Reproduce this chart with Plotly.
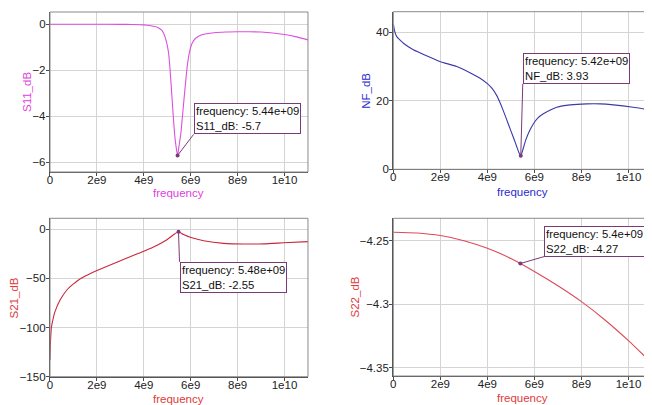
import plotly.graph_objects as go

# ---------------- data (frequency in GHz, values in dB) ----------------
s11_f = [0, 1, 2, 3, 3.5, 4.0, 4.3, 4.57, 4.75, 4.85, 4.95, 5.05, 5.11, 5.21, 5.31, 5.38, 5.44,
         5.5, 5.58, 5.71, 5.85, 5.95, 6.05, 6.2, 6.5, 7.0, 7.5, 8.0, 8.5, 9.0, 9.5, 10.0, 10.5, 11.0]
s11_v = [0, 0, 0, -0.005, -0.01, -0.03, -0.07, -0.13, -0.25, -0.4, -0.7, -1.2, -1.84, -3.3, -4.74, -5.35, -5.7,
         -5.3, -4.74, -3.3, -1.84, -1.2, -0.85, -0.62, -0.45, -0.37, -0.34, -0.33, -0.33, -0.34, -0.38, -0.45, -0.55, -0.68]

nf_f = [0, 0.05, 0.14, 0.3, 0.43, 0.85, 1.56, 2.0, 2.7, 3.26, 3.69, 4.0, 4.2, 4.4, 4.54, 4.7, 4.87, 5.0,
        5.15, 5.25, 5.34, 5.42, 5.5, 5.63, 5.8, 5.96, 6.15, 6.38, 6.7, 6.95, 7.52, 8.23, 8.8, 9.36, 10.2, 11.0]
nf_v = [42.5, 40.5, 38.8, 37.6, 36.8, 34.9, 32.7, 31.4, 30.0, 28.2, 26.6, 25.0, 23.6, 21.5, 19.4, 16.7, 13.6, 11.2,
        8.5, 6.6, 4.9, 3.93, 5.5, 8.5, 11.3, 13.3, 15.0, 16.2, 17.4, 18.1, 18.8, 19.1, 19.1, 18.8, 18.1, 17.2]

s21_f = [0, 0.02, 0.06, 0.115, 0.21, 0.43, 0.71, 0.85, 1.0, 1.28, 1.6, 2.0, 2.85, 3.57, 4.0, 4.57, 5.0, 5.28, 5.48,
         5.7, 5.98, 6.55, 7.41, 8.26, 9.12, 9.97, 11.0]
s21_v = [-133, -115, -100, -93, -84, -72, -62, -58.5, -55.5, -50.5, -46.5, -42, -33.5, -26.5, -22.3, -16.2, -10.4, -5.3, -2.55,
         -5.4, -8.2, -11.6, -14.3, -15.0, -14.8, -13.7, -12.5]

s22_f = [0, 1, 2, 3, 4, 5, 6, 7, 8, 9, 10, 11]
s22_v = [-4.2434, -4.2440, -4.2460, -4.2500, -4.2560, -4.2640, -4.2742, -4.2855, -4.2980, -4.3124, -4.3287, -4.3466]

# markers (frequency GHz, value dB)
m_s11 = (5.44, -5.7)
m_nf = (5.42, 3.93)
m_s21 = (5.48, -2.55)
m_s22 = (5.4, -4.268)

x_tickvals = [0, 2e9, 4e9, 6e9, 8e9, 1e10]
x_ticktext = ["0", "2e9", "4e9", "6e9", "8e9", "1e10"]

def hz(lst):
    return [v * 1e9 for v in lst]

FONT = "Liberation Sans, Arial, sans-serif"
MAG = "#e040e0"
BLUE = "#2a2ad0"
RED = "#e03a3a"
BOXC = "#7a3a7a"

fig = go.Figure()

# (xaxis, yaxis, f, v, line colour, title colour, y title, y range, y ticks, marker, label,
#  ax, ay, xanchor, yanchor, y-title offset px, x-title offset px)
panels = [
    ("x", "y", s11_f, s11_v, "#dd4fdd", MAG, "S11_dB", [-6.42, 0.53], [-6, -4, -2, 0], m_s11,
     "frequency: 5.44e+09<br>S11_dB: -5.7", 16, -21, "left", "bottom", 23, 21),
    ("x2", "y2", nf_f, nf_v, "#3a3aa8", BLUE, "NF_dB", [0, 46], [0, 20, 40], m_nf,
     "frequency: 5.42e+09<br>NF_dB: 3.93", 2, -72, "left", "bottom", 27, 23),
    ("x3", "y3", s21_f, s21_v, "#c8283c", RED, "S21_dB", [-150, 11.2], [-150, -100, -50, 0], m_s21,
     "frequency: 5.48e+09<br>S21_dB: -2.55", 1, 30, "left", "top", 35, 22),
    ("x4", "y4", s22_f, s22_v, "#dc4a58", RED, "S22_dB", [-4.3565, -4.2324], [-4.35, -4.3, -4.25], m_s22,
     "frequency: 5.4e+09<br>S22_dB: -4.27", 24, -7, "left", "bottom", 38, 22),
]

# the page is offset by the browser's 8px body margin; domains below are laid out on a 644x397 paper
domains = [
    ([0.0652, 0.4658], [0.5869, 0.9899]),
    ([0.5983, 1.0], [0.5937, 0.9907]),
    ([0.0652, 0.4658], [0.0713, 0.4703]),
    ([0.5983, 1.0], [0.0730, 0.4703]),
]

annotations = []
shapes = []
for i, (xa, ya, f, v, lc, tc, ytitle, yr, yt, mk, lab, ax, ay, xan, yan, yoff, xoff) in enumerate(panels):
    fig.add_trace(go.Scatter(x=hz(f), y=v, mode="lines", xaxis=xa, yaxis=ya,
                             line=dict(color=lc, width=1.1, shape="spline", smoothing=0.5),
                             hoverinfo="skip", showlegend=False))
    fig.add_trace(go.Scatter(x=[mk[0] * 1e9], y=[mk[1]], mode="markers", xaxis=xa, yaxis=ya,
                             marker=dict(color=BOXC, size=4), hoverinfo="skip", showlegend=False))
    annotations.append(dict(x=mk[0] * 1e9, y=mk[1], xref=xa, yref=ya, text=lab, showarrow=True,
                            arrowhead=0, arrowwidth=1, arrowcolor=BOXC, ax=ax, ay=ay,
                            xanchor=xan, yanchor=yan, align="left", bgcolor="white",
                            bordercolor=BOXC, borderwidth=1, borderpad=1,
                            font=dict(family=FONT, size=11.3, color="#111")))
    sfx = "" if i == 0 else str(i + 1)
    # axis titles
    annotations.append(dict(x=0, y=0.5, xref=f"x{sfx} domain", yref=f"y{sfx} domain", text=ytitle,
                            showarrow=False, textangle=-90, xanchor="center", yanchor="middle",
                            xshift=-yoff, font=dict(family=FONT, size=11.5, color=tc)))
    annotations.append(dict(x=0.5, y=0, xref=f"x{sfx} domain", yref=f"y{sfx} domain", text="frequency",
                            showarrow=False, xanchor="center", yanchor="middle",
                            yshift=-xoff, font=dict(family=FONT, size=11.5, color=tc)))
    shapes.append(dict(type="rect", xref=f"x{sfx} domain", yref=f"y{sfx} domain",
                       x0=0, x1=1, y0=0, y1=1, line=dict(color="#8a8a8a", width=1)))
    xd, yd = domains[i]
    fig.update_layout(**{
        "xaxis" + sfx: dict(domain=xd, anchor=ya, range=[0, 1.1e10], tickvals=x_tickvals, ticktext=x_ticktext,
                            automargin=False,
                            showgrid=True, gridcolor="#d4d4d4", gridwidth=1, zeroline=False,
                            showline=True, linecolor="#4a4a4a", linewidth=1.3,
                            ticks="outside", ticklen=3, tickcolor="#4a4a4a", ticklabelstandoff=-6,
                            tickfont=dict(family=FONT, size=11.5, color="#222")),
        "yaxis" + sfx: dict(domain=yd, anchor=xa, range=yr, tickvals=yt,
                            automargin=False,
                            showgrid=True, gridcolor="#d4d4d4", gridwidth=1, zeroline=False,
                            showline=True, linecolor="#4a4a4a", linewidth=1.3,
                            ticks="outside", ticklen=3, tickcolor="#4a4a4a", ticklabelstandoff=-2,
                            tickfont=dict(family=FONT, size=11.5, color="#222")),
    })

fig.update_layout(width=644, height=397, margin=dict(l=0, r=0, t=0, b=0),
                  paper_bgcolor="white", plot_bgcolor="white",
                  annotations=annotations, shapes=shapes, showlegend=False)

fig.write_html("out.html")
